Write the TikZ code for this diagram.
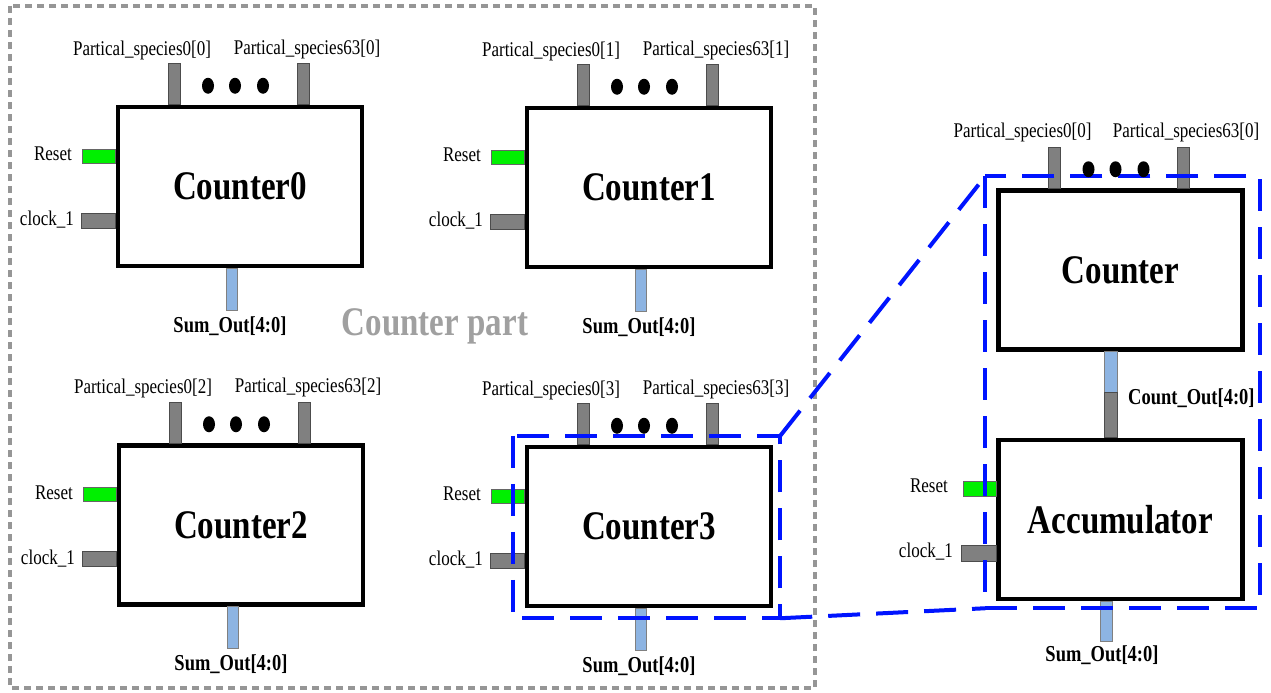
\documentclass[tikz,border=0pt]{standalone}
\usepackage{fontspec}
\setmainfont{Liberation Serif}
\usepackage{graphicx}
\usetikzlibrary{calc}
\newcommand\vst[1]{\scalebox{1}[1.23]{#1}}
\definecolor{pgray}{RGB}{128,128,128}
\definecolor{pgreen}{RGB}{0,240,0}
\definecolor{pblue}{RGB}{141,180,226}
\definecolor{dblue}{RGB}{0,20,255}
\definecolor{outgray}{RGB}{150,150,150}
\definecolor{txtgray}{RGB}{160,160,160}
\tikzset{
  blockbox/.style={draw=black, line width=4.5pt, fill=white, minimum width=244pt, minimum height=159pt, inner sep=0pt, font=\fontsize{33pt}{33pt}\selectfont\bfseries},
  gpin/.style={fill=pgray, draw=black!70, line width=0.8pt},
  rpin/.style={fill=pgreen, draw=black!60, line width=0.8pt},
  bpin/.style={fill=pblue, draw=black!50, line width=0.8pt},
  lbl/.style={font=\fontsize{17pt}{17pt}\selectfont, inner sep=0pt},
  blbl/.style={font=\fontsize{18.5pt}{18.5pt}\selectfont\bfseries, inner sep=0pt},
  zoombox/.style={draw=dblue, line width=4pt, dash pattern=on 32pt off 16pt},
  outerbox/.style={draw=outgray, line width=3.5pt, dash pattern=on 7pt off 5pt},
  dotmark/.style={fill=black},
}
\begin{document}
\begin{tikzpicture}[x=1pt,y=-1pt]
\useasboundingbox (0,0) rectangle (1271,693);
% outer dotted frame
\draw[outerbox] (10,6) rectangle (815,688);
\node[font=\fontsize{33pt}{33pt}\selectfont\bfseries, text=txtgray, inner sep=0pt] (cpart) at (435,326) {\vst{Counter part}};

% four counters
\foreach \n/\cx/\cy/\i in {c0/240/186.5/0, c1/649/187.5/1, c2/241/525/2, c3/649/526.5/3}{
  \node[blockbox] (\n) at (\cx,\cy) {\vst{Counter\i}};
  \draw[gpin] ($(\n.north)+(-72,0)$) rectangle ($(\n.north)+(-60,-41)$);
  \draw[gpin] ($(\n.north)+(57,0)$) rectangle ($(\n.north)+(69,-41)$);
  \draw[rpin] ($(\n.west)+(-33,-37.5)$) rectangle ($(\n.west)+(0,-23.5)$);
  \draw[gpin] ($(\n.west)+(-34,26.5)$) rectangle ($(\n.west)+(0,41.5)$);
  \draw[bpin] ($(\n.south)+(-14,0)$) rectangle ($(\n.south)+(-3,42)$);
  \node[lbl] (\n-pa) at ($(\n.center)+(-98,-136.5)$) {\vst{Partical\_species0[\i]}};
  \node[lbl] (\n-pb) at ($(\n.center)+(67,-137.5)$) {\vst{Partical\_species63[\i]}};
  \node[lbl, anchor=east] (\n-rs) at ($(\n.center)+(-168,-32.5)$) {\vst{Reset}};
  \node[lbl, anchor=east] (\n-ck) at ($(\n.center)+(-166,33.5)$) {\vst{clock\_1}};
  \node[blbl] (\n-so) at ($(\n.center)+(-10,139.5)$) {\vst{Sum\_Out[4:0]}};
}

% right side: counter and accumulator
\node[blockbox] (cnt) at (1120.5,270) {\vst{Counter}};
\node[blockbox] (acc) at (1120.5,519.5) {\vst{Accumulator}};
\draw[gpin] ($(cnt.north)+(-72,0)$) rectangle ($(cnt.north)+(-60,-41)$);
\draw[gpin] ($(cnt.north)+(57,0)$) rectangle ($(cnt.north)+(69,-41)$);
\draw[bpin] ($(cnt.south)+(-16.5,0)$) rectangle ($(cnt.south)+(-3.5,41)$);
\draw[gpin] ($(cnt.south)+(-16.5,41)$) rectangle ($(acc.north)+(-3.5,0)$);
\draw[rpin] ($(acc.west)+(-33,-38.5)$) rectangle ($(acc.west)+(0,-23.5)$);
\draw[gpin] ($(acc.west)+(-35,25.5)$) rectangle ($(acc.west)+(0,41.5)$);
\draw[bpin] ($(acc.south)+(-20,0)$) rectangle ($(acc.south)+(-8,40)$);
\node[lbl] (cnt-pa) at ($(cnt.center)+(-98,-138)$) {\vst{Partical\_species0[0]}};
\node[lbl] (cnt-pb) at ($(cnt.center)+(65.5,-138)$) {\vst{Partical\_species63[0]}};
\node[blbl, anchor=west] (cnt-co) at ($(cnt.south)+(7.5,46)$) {\vst{Count\_Out[4:0]}};
\node[lbl, anchor=east] (acc-rs) at ($(acc.center)+(-172.5,-33.5)$) {\vst{Reset}};
\node[lbl, anchor=east] (acc-ck) at ($(acc.center)+(-167.5,32.5)$) {\vst{clock\_1}};
\node[blbl] (acc-so) at ($(acc.center)+(-18.5,135.5)$) {\vst{Sum\_Out[4:0]}};

% zoom boxes
\coordinate (za) at ($(c3.north east)+(7,-9)$);
\coordinate (zb) at ($(c3.south east)+(7,10)$);
\coordinate (zc) at ($(cnt.north west)+(-11,-12)$);
\coordinate (zd) at ($(acc.south west)+(-11,7)$);
\draw[zoombox] ($(c3.north west)+(-12,-9)$) rectangle (zb);
\draw[zoombox] (zc) rectangle ($(acc.south east)+(15,7)$);
\draw[zoombox] (za) -- (zc);
\draw[zoombox] (zb) -- (zd);

% dots
\foreach \n in {c0,c1,c2,c3,cnt}{
  \foreach \dx in {-32,-5,23}{
    \fill[dotmark] ($(\n.north)+(\dx,-19)$) ellipse [x radius=6pt, y radius=8pt];
  }
}
\end{tikzpicture}
\end{document}
